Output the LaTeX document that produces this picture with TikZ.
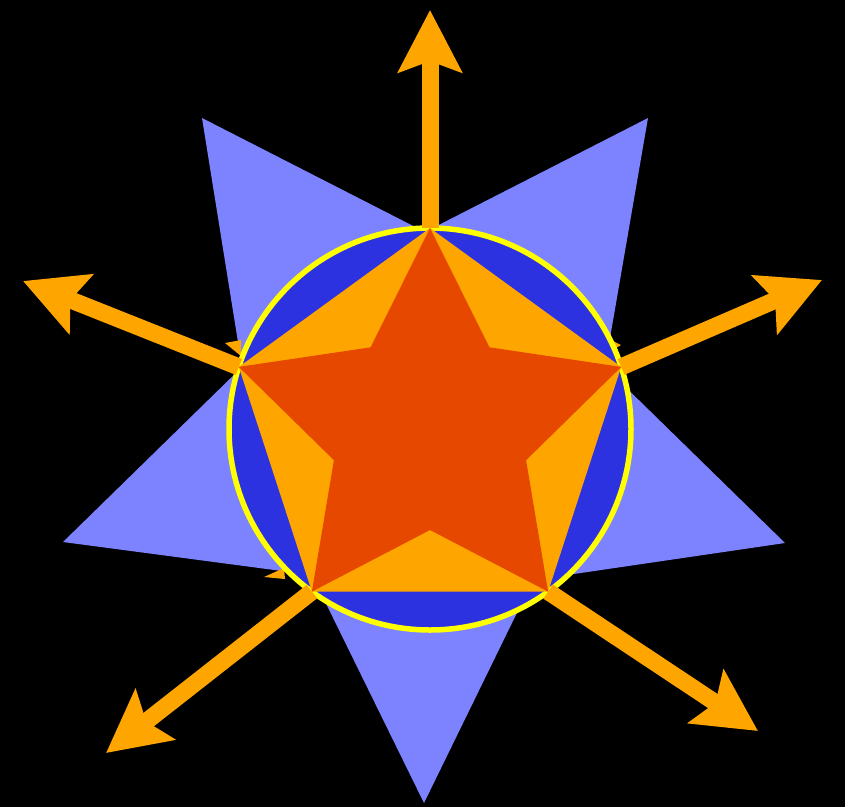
\documentclass[tikz,border=0pt]{standalone}
\usetikzlibrary{arrows.meta}
\definecolor{skyblue}{RGB}{125,130,255}
\definecolor{deepblue}{RGB}{45,50,225}
\definecolor{gold}{RGB}{255,165,0}
\definecolor{ember}{RGB}{230,72,0}
\definecolor{rim}{RGB}{255,255,0}
\begin{document}
\begin{tikzpicture}[
  x=1pt, y=-1pt,
  backstar/.style={fill=skyblue},
  ring/.style={fill=deepblue, draw=rim, line width=5.5pt},
  pentagon/.style={fill=gold},
  frontstar/.style={fill=ember},
  sliver/.style={fill=gold},
  ray/.style={draw=gold, line width=17pt,
    -{Stealth[length=62pt, width=63pt, inset=11pt]}}
]

\fill[black] (0,0) rectangle (845,807);
\useasboundingbox (0,0) rectangle (845,807);

% points of the big pale star
\coordinate (bA) at (202,118);
\coordinate (bB) at (648,118);
\coordinate (bC) at (785,543);
\coordinate (bD) at (424,803);
\coordinate (bE) at (63,542);
\coordinate (bAB) at (425,232);
\coordinate (bBC) at (605,367);
\coordinate (bCD) at (533,580);
\coordinate (bDE) at (312,575);
\coordinate (bEA) at (242,367);

% points of the front star
\coordinate (center) at (430,429);
\coordinate (top) at (430,228);
\coordinate (right) at (621.2,366.9);
\coordinate (lowright) at (548.1,591.6);
\coordinate (lowleft) at (311.9,591.6);
\coordinate (left) at (238.8,366.9);
\coordinate (in1) at (489.4,347.3);
\coordinate (in2) at (526.1,460.2);
\coordinate (in3) at (430,530);
\coordinate (in4) at (333.9,460.2);
\coordinate (in5) at (370.6,347.3);

% arrow ends
\coordinate (topEnd) at (430,10);
\coordinate (rightEnd) at (822,280);
\coordinate (lowrightEnd) at (758,731);
\coordinate (lowleftEnd) at (106,753);
\coordinate (leftEnd) at (23,281);

\fill[backstar] (bA) -- (bAB) -- (bB) -- (bBC) -- (bC) -- (bCD)
  -- (bD) -- (bDE) -- (bE) -- (bEA) -- cycle;

\fill[sliver] (225,343) -- (241,340) -- (241,356) -- cycle;
\fill[sliver] (611,340) -- (621,345) -- (611,351) -- cycle;
\fill[sliver] (264,577) -- (284,568) -- (285,579) -- cycle;

\draw[ring] (center) circle[radius=201];

\fill[pentagon] (top) -- (right) -- (lowright) -- (lowleft) -- (left) -- cycle;

\draw[ray] (top) -- (topEnd);
\draw[ray] (right) -- (rightEnd);
\draw[ray] (lowright) -- (lowrightEnd);
\draw[ray] (lowleft) -- (lowleftEnd);
\draw[ray] (left) -- (leftEnd);

\fill[frontstar] (top) -- (in1) -- (right) -- (in2) -- (lowright) -- (in3)
  -- (lowleft) -- (in4) -- (left) -- (in5) -- cycle;
\end{tikzpicture}
\end{document}
